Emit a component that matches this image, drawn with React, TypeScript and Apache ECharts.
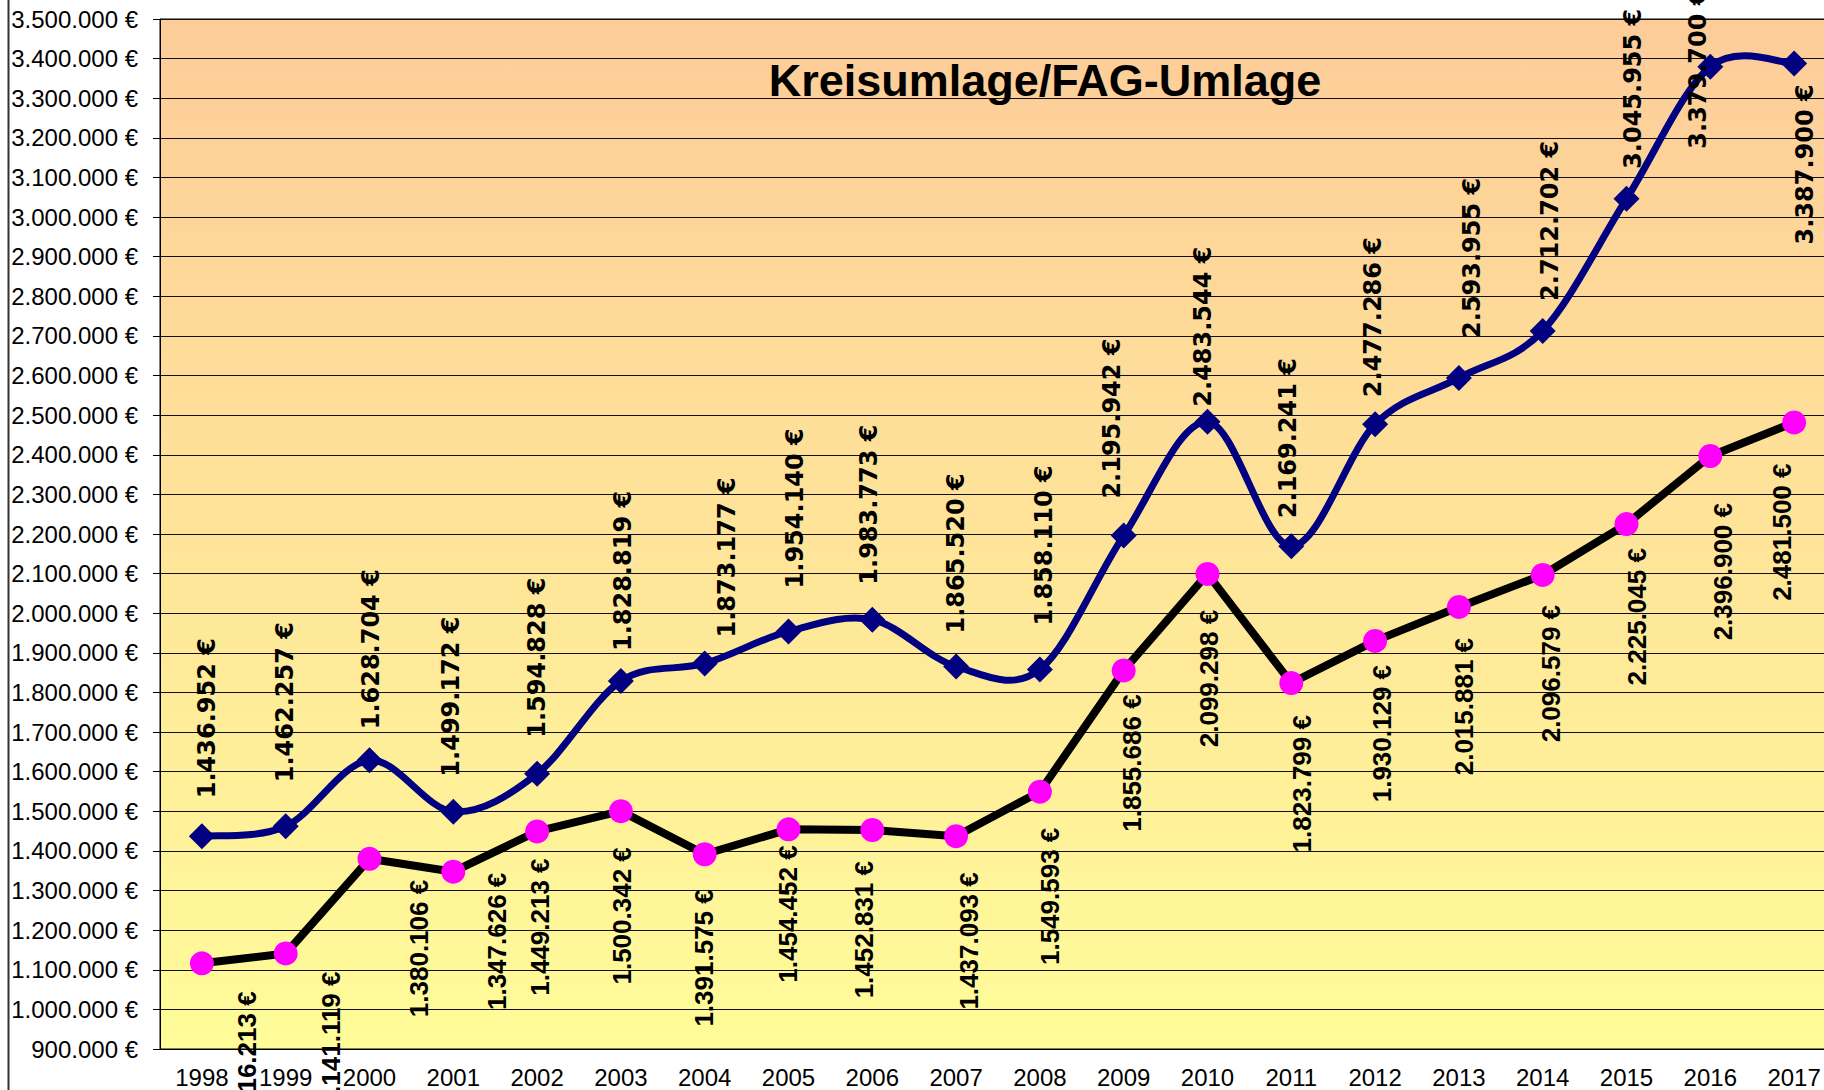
import React, { useEffect, useRef } from "react";
import * as echarts from "echarts";

// ---- data ----
const years = [
  "1998", "1999", "2000", "2001", "2002", "2003", "2004", "2005", "2006", "2007",
  "2008", "2009", "2010", "2011", "2012", "2013", "2014", "2015", "2016", "2017",
];

// upper series (blue diamonds, smoothed)
const kreisumlage = [
  1436952, 1462257, 1628704, 1499172, 1594828, 1828819, 1873177, 1954140, 1983773, 1865520,
  1858110, 2195942, 2483544, 2169241, 2477286, 2593955, 2712702, 3045955, 3379700, 3387900,
];

// lower series (magenta circles, straight)
const fagUmlage = [
  1116213, 1141119, 1380106, 1347626, 1449213, 1500342, 1391575, 1454452, 1452831, 1437093,
  1549593, 1855686, 2099298, 1823799, 1930129, 2015881, 2096579, 2225045, 2396900, 2481500,
];

const yMin = 900000;
const yMax = 3500000;
const yStep = 100000;

const titleText = "Kreisumlage/FAG-Umlage";

// manual label nudges of the original (screen px): [dx, dy of label start/end relative to point]
const upperLabelNudge = [
  [5, -38], [-1, -44], [1, -31], [-2, -35], [0, -36], [2, -30], [22, -26], [6, -43], [-3, -35], [0, -33],
  [4, -44], [-12, -37], [-5, -15], [-3, -28], [-2, -27], [13, -40], [7, -30], [6, -30], [-12, 82], [11, 181],
];
const lowerLabelNudge = [
  [45, 28], [45, 18], [49, 21], [44, 1], [3, 27], [1, 36], [-1, 35], [-1, 16], [-8, 31], [13, 36],
  [10, 36], [8, 24], [1, 36], [11, 32], [7, 24], [5, 31], [8, 30], [10, 24], [13, 47], [-12, 41],
];

const fmt = (v: number) => String(Math.round(v)).replace(/\B(?=(\d{3})+(?!\d))/g, ".") + " €";

const DIAMOND = 26;
const CIRCLE = 24;
const TENSION = 1 / 6;

export default function App() {
  const ref = useRef<HTMLDivElement>(null);

  useEffect(() => {
    if (!ref.current) return;
    const chart = echarts.init(ref.current, undefined, { renderer: "svg" });

    // offset for a label rotated by 90deg: screen shift (sx, sy) -> offset [-sy, sx]
    const upperData = kreisumlage.map((v, i) => {
      const [dx, dy] = upperLabelNudge[i];
      const sy = dy + DIAMOND / 2;
      return { value: v, label: { offset: [-sy, dx] } };
    });
    const lowerData = fagUmlage.map((v, i) => {
      const [dx, dy] = lowerLabelNudge[i];
      const sy = dy - CIRCLE / 2;
      return { value: v, label: { offset: [-sy, dx] } };
    });

    const n = kreisumlage.length;
    const curveItem = (params: any, api: any) => {
      const i = params.dataIndex;
      if (i >= n - 1) return null;
      const p = (k: number) => {
        const j = Math.max(0, Math.min(n - 1, k));
        return api.coord([j, kreisumlage[j]]);
      };
      const p0 = p(i - 1);
      const p1 = p(i);
      const p2 = p(i + 1);
      const p3 = p(i + 2);
      return {
        type: "bezierCurve",
        shape: {
          x1: p1[0],
          y1: p1[1],
          x2: p2[0],
          y2: p2[1],
          cpx1: p1[0] + (p2[0] - p0[0]) * TENSION,
          cpy1: p1[1] + (p2[1] - p0[1]) * TENSION,
          cpx2: p2[0] - (p3[0] - p1[0]) * TENSION,
          cpy2: p2[1] - (p3[1] - p1[1]) * TENSION,
        },
        style: { stroke: "#000080", lineWidth: 7, fill: null, lineCap: "round" },
      };
    };

    chart.setOption({
      animation: false,
      backgroundColor: "#ffffff",
      grid: {
        left: 160,
        top: 19,
        width: 1676,
        height: 1030,
        show: true,
        borderColor: "#000",
        borderWidth: 1,
        backgroundColor: new echarts.graphic.LinearGradient(0, 0, 0, 1, [
          { offset: 0, color: "#FDCC99" },
          { offset: 1, color: "#FFFC99" },
        ]),
        containLabel: false,
        outerBoundsMode: "none",
      },
      xAxis: {
        type: "category",
        data: years,
        boundaryGap: true,
        axisLine: { show: true, lineStyle: { color: "#000", width: 1 } },
        axisTick: { show: false },
        axisLabel: {
          interval: 0,
          color: "#000",
          fontSize: 24,
          fontFamily: "Liberation Sans",
          margin: 16,
        },
        splitLine: { show: false },
      },
      yAxis: {
        type: "value",
        min: yMin,
        max: yMax,
        interval: yStep,
        axisLine: { show: true, lineStyle: { color: "#000", width: 1 } },
        axisTick: { show: true, length: 7, lineStyle: { color: "#000" } },
        axisLabel: {
          formatter: (v: number) => fmt(v),
          color: "#000",
          fontSize: 24,
          fontFamily: "Liberation Sans",
          margin: 22,
        },
        splitLine: { show: true, lineStyle: { color: "#111", width: 1 } },
      },
      graphic: [
        {
          type: "line",
          shape: { x1: 8.5, y1: 0, x2: 8.5, y2: 1090 },
          style: { stroke: "#333", lineWidth: 2 },
          z: 10,
        },
        {
          type: "text",
          x: 1045,
          y: 80,
          style: {
            text: titleText,
            fill: "#000",
            fontSize: 45,
            fontWeight: "bold",
            fontFamily: "Liberation Sans",
            align: "center",
            verticalAlign: "middle",
          },
          z: 10,
        },
      ],
      series: [
        {
          name: "FAG-Umlage",
          type: "line",
          data: lowerData,
          smooth: false,
          symbol: "circle",
          symbolSize: CIRCLE,
          lineStyle: { color: "#000", width: 8 },
          itemStyle: { color: "#FF00FF", borderWidth: 0 },
          label: {
            show: true,
            position: "bottom",
            distance: 0,
            rotate: 90,
            align: "right",
            verticalAlign: "middle",
            formatter: (p: any) => fmt(p.value),
            color: "#000",
            fontSize: 26,
            fontWeight: "bold",
            fontFamily: "Liberation Sans",
          },
          z: 3,
        },
        {
          name: "Kreisumlage-Kurve",
          type: "custom",
          data: kreisumlage.map((v, i) => [i, v]),
          renderItem: curveItem,
          encode: { x: 0, y: 1 },
          silent: true,
          z: 4,
        },
        {
          name: "Kreisumlage",
          type: "line",
          data: upperData,
          symbol: "diamond",
          symbolSize: DIAMOND,
          lineStyle: { opacity: 0, width: 0 },
          itemStyle: { color: "#000080", borderWidth: 0 },
          label: {
            show: true,
            position: "top",
            distance: 0,
            rotate: 90,
            align: "left",
            verticalAlign: "middle",
            formatter: (p: any) => fmt(p.value),
            color: "#000",
            fontSize: 24,
            fontWeight: "bold",
            fontFamily: "DejaVu Sans",
          },
          z: 5,
        },
      ],
    });

    return () => chart.dispose();
  }, []);

  return (
    <div
      ref={ref}
      style={{ position: "absolute", left: 0, top: 0, width: 1824, height: 1090 }}
    />
  );
}
